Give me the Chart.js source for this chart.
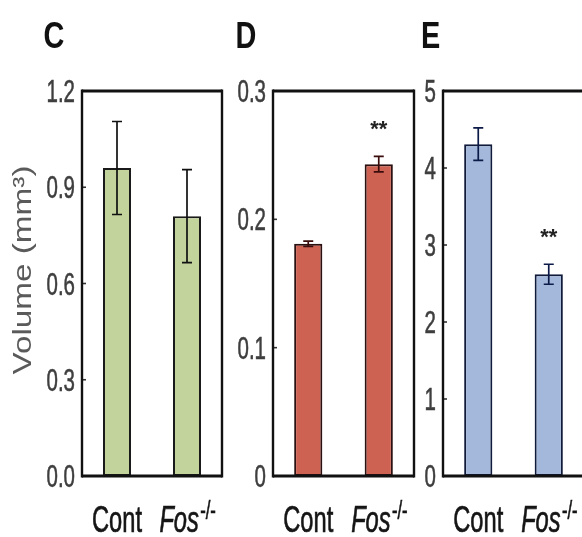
<!DOCTYPE html>
<html><head><meta charset="utf-8">
<script src="https://cdn.jsdelivr.net/npm/chart.js@4.4.1/dist/chart.umd.min.js"></script>
<style>
html,body{margin:0;padding:0;background:#fff;overflow:hidden;width:582px;height:537px}
#wrap{position:relative;width:582px;height:537px;overflow:hidden}
canvas{position:absolute;top:0}
</style></head>
<body><div id="wrap">
<canvas id="cC" width="230" height="537" style="left:0"></canvas>
<canvas id="cD" width="220" height="537" style="left:200px"></canvas>
<canvas id="cE" width="200" height="537" style="left:390px"></canvas>
</div>
<script>
// ---- data ----
const categories = ['Cont', 'Fos-/-'];
const volumeC = [0.96, 0.81];
const errorC = [0.145, 0.145];
const volumeD = [0.181, 0.243];
const errorD = [0.002, 0.006];
const volumeE = [4.31, 2.62];
const errorE = [0.21, 0.13];
const starsD = ['', '**'];
const starsE = ['', '**'];
const ticksC = [0, 0.3, 0.6, 0.9, 1.2];
const tickLabelsC = ['0.0', '0.3', '0.6', '0.9', '1.2'];
const ticksD = [0, 0.1, 0.2, 0.3];
const tickLabelsD = ['0', '0.1', '0.2', '0.3'];
const ticksE = [0, 1, 2, 3, 4, 5];
const tickLabelsE = ['0', '1', '2', '3', '4', '5'];
const panelLetters = ['C', 'D', 'E'];
const yTitle = 'Volume (mm³)';

const SANS = '"Liberation Sans", Arial, sans-serif';
const SQ = 0.64; // horizontal squeeze of the condensed lettering

function panelPlugin(p) {
  return {
    id: 'panel' + p.letter,
    afterDatasetsDraw(chart) {
      const ctx = chart.ctx, a = chart.chartArea;
      const xs = chart.scales.x, ys = chart.scales.y;
      ctx.save();
      // error bars
      ctx.strokeStyle = p.errColor; ctx.lineWidth = 1.7;
      p.values.forEach((v, i) => {
        const x = xs.getPixelForValue(i);
        const yt = ys.getPixelForValue(v + p.errors[i]);
        const yb = ys.getPixelForValue(v - p.errors[i]);
        ctx.beginPath();
        ctx.moveTo(x, yt); ctx.lineTo(x, yb);
        ctx.moveTo(x - 5, yt); ctx.lineTo(x + 5, yt);
        ctx.moveTo(x - 5, yb); ctx.lineTo(x + 5, yb);
        ctx.stroke();
        if (p.stars && p.stars[i]) {
          ctx.fillStyle = '#222';
          ctx.font = 'bold 22px ' + SANS;
          ctx.textAlign = 'center'; ctx.textBaseline = 'alphabetic';
          ctx.fillText(p.stars[i], x, yt - 20);
        }
      });
      // inward tick marks + tick labels
      ys.ticks.forEach((t, i) => {
        const y = ys.getPixelForValue(t.value);
        ctx.strokeStyle = '#333'; ctx.lineWidth = 1.6;
        ctx.beginPath(); ctx.moveTo(a.left, y); ctx.lineTo(a.left + 4, y); ctx.stroke();
        ctx.save();
        ctx.translate(a.left - 7, y + 11);
        ctx.scale(0.66, 1);
        ctx.font = '31px ' + SANS;
        ctx.fillStyle = '#3e3e3e';
        ctx.strokeStyle = '#3e3e3e'; ctx.lineWidth = 0.6;
        ctx.textAlign = 'right'; ctx.textBaseline = 'alphabetic';
        ctx.fillText(p.tickLabels[i], 0, 0);
        ctx.strokeText(p.tickLabels[i], 0, 0);
        ctx.restore();
      });
      // frame
      ctx.strokeStyle = '#111';
      ctx.lineWidth = 3;
      ctx.beginPath();
      ctx.moveTo(a.left, a.top); ctx.lineTo(a.right, a.top);
      ctx.moveTo(a.left, a.bottom); ctx.lineTo(a.right, a.bottom);
      ctx.stroke();
      ctx.lineWidth = 2.4;
      ctx.beginPath();
      ctx.moveTo(a.left, a.top - 1.5); ctx.lineTo(a.left, a.bottom + 1.5);
      ctx.moveTo(a.right, a.top - 1.5); ctx.lineTo(a.right, a.bottom + 1.5);
      ctx.stroke();
      // x labels
      ctx.fillStyle = '#151515';
      ctx.strokeStyle = '#151515'; ctx.lineWidth = 0.7;
      ctx.textBaseline = 'alphabetic';
      categories.forEach((c, i) => {
        const x = xs.getPixelForValue(i);
        ctx.save();
        ctx.translate(x, 532);
        ctx.scale(SQ, 1);
        if (c.startsWith('Fos')) {
          const main = 'Fos', sup = c.slice(3);
          ctx.font = 'italic 37px ' + SANS;
          const w1 = ctx.measureText(main).width;
          ctx.font = '26px ' + SANS;
          const w2 = ctx.measureText(sup).width;
          const x0 = -(w1 + w2) / 2;
          ctx.textAlign = 'left';
          ctx.font = 'italic 37px ' + SANS;
          ctx.fillText(main, x0, 0); ctx.strokeText(main, x0, 0);
          ctx.font = '26px ' + SANS;
          ctx.fillText(sup, x0 + w1 + 2, -13); ctx.strokeText(sup, x0 + w1 + 2, -13);
        } else {
          ctx.font = '37px ' + SANS;
          ctx.textAlign = 'center';
          ctx.fillText(c, 0, 0); ctx.strokeText(c, 0, 0);
        }
        ctx.restore();
      });
      // panel letter
      ctx.save();
      ctx.translate(p.letterX, 48);
      ctx.scale(0.78, 1);
      ctx.font = 'bold 37px ' + SANS;
      ctx.fillStyle = '#111';
      ctx.textAlign = 'center';
      ctx.fillText(p.letter, 0, 0);
      ctx.restore();
      // y title
      if (p.title) {
        ctx.save();
        ctx.translate(31, 270);
        ctx.rotate(-Math.PI / 2);
        ctx.scale(1.28, 1);
        ctx.font = '26px ' + SANS;
        ctx.fillStyle = '#5a5a5a';
        ctx.textAlign = 'center';
        ctx.fillText(p.title, 0, 0);
        ctx.restore();
      }
      ctx.restore();
    }
  };
}

function makeChart(id, p) {
  return new Chart(document.getElementById(id), {
    type: 'bar',
    data: {
      labels: categories,
      datasets: [{
        data: p.values,
        backgroundColor: p.color,
        borderColor: p.borderColor,
        borderWidth: 2,
        borderSkipped: false,
        categoryPercentage: 1,
        barPercentage: 0.4
      }]
    },
    options: {
      responsive: false,
      animation: false,
      events: [],
      layout: { padding: { top: 91, right: p.padRight, bottom: 0, left: 0 } },
      plugins: { legend: { display: false }, tooltip: { enabled: false }, title: { display: false } },
      scales: {
        x: {
          offset: true,
          ticks: { display: false },
          grid: { display: false },
          border: { display: false },
          afterFit: s => { s.height = 61; }
        },
        y: {
          min: 0, max: p.max,
          afterBuildTicks: s => { s.ticks = p.ticks.map(v => ({ value: v })); },
          ticks: { display: false },
          grid: { display: false },
          border: { display: false },
          afterFit: s => { s.width = p.yWidth; }
        }
      }
    },
    plugins: [panelPlugin(p)]
  });
}

makeChart('cC', { values: volumeC, errors: errorC, color: '#c2d39c', borderColor: '#1a1a1a', errColor: '#111',
  ticks: ticksC, tickLabels: tickLabelsC, max: 1.2, yWidth: 82, padRight: 8, letter: panelLetters[0], letterX: 54, title: yTitle });
makeChart('cD', { values: volumeD, errors: errorD, color: '#cd6152', borderColor: '#2a1010', errColor: '#3a0c0c',
  ticks: ticksD, tickLabels: tickLabelsD, max: 0.3, yWidth: 73, padRight: 6, letter: panelLetters[1], letterX: 46, stars: starsD });
makeChart('cE', { values: volumeE, errors: errorE, color: '#a3b8da', borderColor: '#101a3a', errColor: '#0c1a48',
  ticks: ticksE, tickLabels: tickLabelsE, max: 5, yWidth: 53, padRight: 6, letter: panelLetters[2], letterX: 40.5, stars: starsE });
</script>
</body></html>
